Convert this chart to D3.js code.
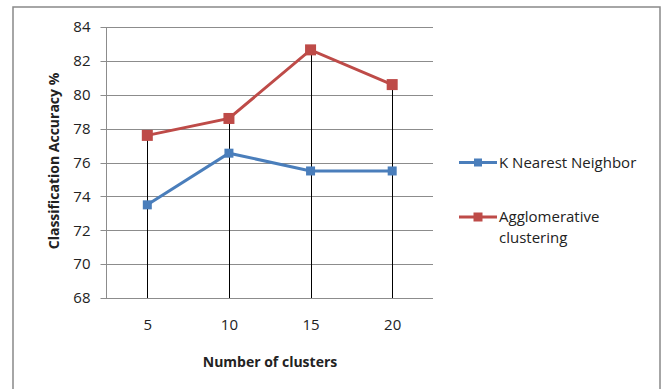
<!DOCTYPE html>
<html><head><meta charset="utf-8">
<script src="https://cdn.jsdelivr.net/npm/d3@7"></script>
<style>body{margin:0;background:#fff}svg{display:block}text{font-family:"Open Sans",sans-serif;fill:#222}</style>
</head><body>
<script>
const categories = ["5", "10", "15", "20"];
const knn = [73.5, 76.55, 75.5, 75.5];
const agglo = [77.6, 78.6, 82.65, 80.6];
const yTicks = [68, 70, 72, 74, 76, 78, 80, 82, 84];
const seriesNames = ["K Nearest Neighbor", ["Agglomerative", "clustering"]];

const W = 664, H = 389;
const svg = d3.select("body").append("svg").attr("width", W).attr("height", H);

// outer frame
svg.append("rect").attr("x", 13).attr("y", 7).attr("width", 647).attr("height", 400)
  .attr("fill", "#fff").attr("stroke", "#898989").attr("stroke-width", 1.5);

const L = 106.5, R = 433, T = 27, B = 298;
const x = d3.scalePoint().domain(categories).range([L, R]).padding(0.5);
const y = d3.scaleLinear().domain([68, 84]).range([B, T]);

// gridlines
svg.append("g").selectAll("line").data(yTicks).join("line")
  .attr("x1", L - 6).attr("x2", R).attr("y1", d => Math.round(y(d)) + 0.5).attr("y2", d => Math.round(y(d)) + 0.5)
  .attr("stroke", "#8c8c8c").attr("stroke-width", 1);
// y axis line
svg.append("line").attr("x1", L).attr("x2", L).attr("y1", T).attr("y2", B + 0.5)
  .attr("stroke", "#8c8c8c").attr("stroke-width", 1);

// y tick labels
const yAxis = d3.axisLeft(y).tickValues(yTicks).tickSize(0).tickPadding(16);
const gy = svg.append("g").attr("transform", `translate(${L},0)`).call(yAxis);
gy.select(".domain").remove();
gy.selectAll("text").style("font-size", "15px").attr("fill", "#222").style("font-family", "'Open Sans',sans-serif");

// x tick labels
const xAxis = d3.axisBottom(x).tickSize(0).tickPadding(21);
const gx = svg.append("g").attr("transform", `translate(0,${B})`).call(xAxis);
gx.select(".domain").remove();
gx.selectAll("text").style("font-size", "15px").attr("fill", "#222").style("font-family", "'Open Sans',sans-serif");

// drop lines
svg.append("g").selectAll("line").data(categories).join("line")
  .attr("x1", d => Math.round(x(d)) + 0.5).attr("x2", d => Math.round(x(d)) + 0.5)
  .attr("y1", (d, i) => y(Math.max(knn[i], agglo[i]))).attr("y2", B)
  .attr("stroke", "#000").attr("stroke-width", 1);

const line = d3.line().x((d, i) => x(categories[i])).y(d => y(d));
function drawSeries(vals, color, size) {
  svg.append("path").datum(vals).attr("d", line).attr("fill", "none")
    .attr("stroke", color).attr("stroke-width", 3);
  svg.append("g").selectAll("rect").data(vals).join("rect")
    .attr("x", (d, i) => x(categories[i]) - size / 2).attr("y", d => y(d) - size / 2)
    .attr("width", size).attr("height", size).attr("fill", color);
}
drawSeries(knn, "#4a7ebb", 9);
drawSeries(agglo, "#be4b48", 11);

// legend
const leg = [{c: "#4a7ebb", s: 8, y: 162.5, t: [seriesNames[0]]}, {c: "#be4b48", s: 9, y: 217, t: seriesNames[1]}];
leg.forEach(l => {
  svg.append("line").attr("x1", 459).attr("x2", 497).attr("y1", l.y).attr("y2", l.y)
    .attr("stroke", l.c).attr("stroke-width", 3);
  svg.append("rect").attr("x", 478 - l.s / 2).attr("y", l.y - l.s / 2).attr("width", l.s).attr("height", l.s).attr("fill", l.c);
  l.t.forEach((t, k) => {
    svg.append("text").attr("x", 499).attr("y", l.y + 5 + k * 21).style("font-size", "15px").text(t);
  });
});

// axis titles
svg.append("text").attr("x", 270).attr("y", 367).attr("text-anchor", "middle")
  .style("font-size", "14px").style("font-weight", "bold").text("Number of clusters");
svg.append("text").attr("transform", "translate(59,161) rotate(-90)").attr("text-anchor", "middle")
  .style("font-size", "14px").style("font-weight", "bold").text("Classification Accuracy %");
</script>
</body></html>
